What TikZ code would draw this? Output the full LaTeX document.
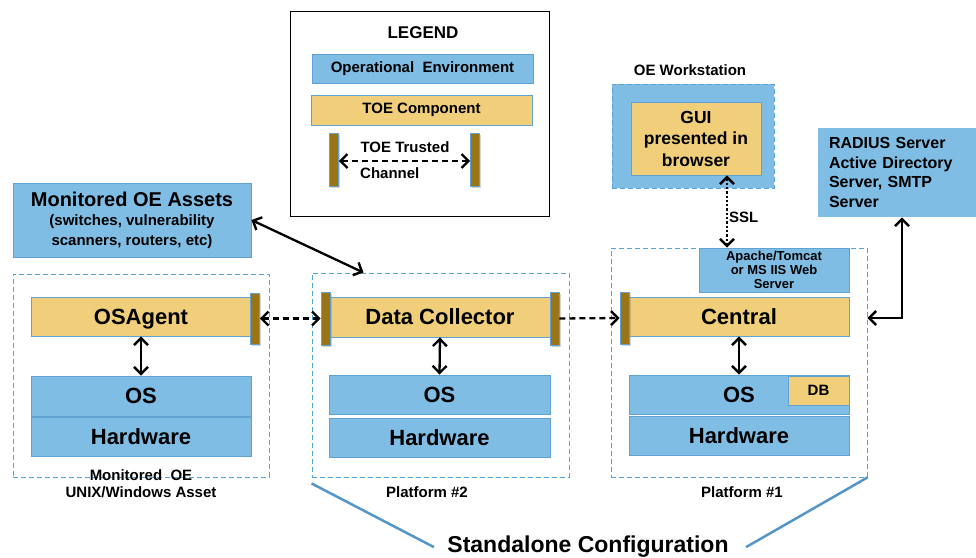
\documentclass[tikz,border=0pt]{standalone}
\usepackage{fontspec}
\setmainfont{Liberation Sans}
\usetikzlibrary{arrows.meta,shadows}

\definecolor{oeblue}{RGB}{127,189,228}
\definecolor{oeedge}{RGB}{98,162,210}
\definecolor{toeyel}{RGB}{240,206,122}
\definecolor{chanbar}{RGB}{153,117,24}
\definecolor{platedge}{RGB}{88,164,214}
\definecolor{cfgline}{RGB}{84,150,200}

\newcommand\fsz[2]{\fontsize{#1}{#2}\selectfont\bfseries}

\tikzset{
  box/.style={draw=oeedge, line width=0.9pt, inner sep=0pt, align=center},
  oe/.style={box, fill=oeblue},
  toe/.style={box, fill=toeyel},
  layer/.style={font=\fsz{22}{26}, text height=15.8pt, text depth=0pt},
  chanbar/.style={draw=oeedge, fill=chanbar, line width=0.6pt, inner sep=0pt,
    minimum width=9pt, minimum height=52pt,
    drop shadow={opacity=0.35, shadow xshift=1.5pt, shadow yshift=-2pt}},
  platform/.style={draw=platedge, line width=0.9pt, dash pattern=on 5pt off 3pt,
    inner sep=0pt},
  barb/.tip={Straight Barb[length=7pt,width=14pt,line width=2.4pt]},
  link/.style={line width=2.3pt, barb-barb},
  chan/.style={line width=2.3pt, dash pattern=on 6pt off 4pt},
  caption/.style={font=\fsz{15}{17}, anchor=base, align=center},
}

\begin{document}
\begin{tikzpicture}[x=1pt, y=-1pt]
\useasboundingbox (0,0) rectangle (976,557);

% ---------------- legend ----------------
\node[draw=black, line width=1pt, minimum width=259pt, minimum height=205pt, inner sep=0pt]
  (legend) at (419.5,113.5) {};
\node[font=\fsz{17}{20}, anchor=base] (legtitle) at (423,38) {LEGEND};
\node[oe, minimum width=221pt, minimum height=29pt, font=\fsz{15}{18}]
  (legoe) at (422.5,68.5) {Operational\ \ Environment};
\node[toe, minimum width=221pt, minimum height=30pt, font=\fsz{15}{18}]
  (legtoe) at (421.5,110) {TOE Component};
\node[chanbar, minimum height=53pt] (legbl) at (334,159.5) {};
\node[chanbar, minimum height=53pt] (legbr) at (475,159.5) {};
\draw[chan, barb-barb] ([yshift=-1.5pt]legbl.east) -- ([yshift=-1.5pt]legbr.west);
\node[caption] (legtt) at (405,152) {TOE Trusted};
\node[font=\fsz{15}{17}, anchor=base west, inner sep=0pt] (legch) at (360,178) {Channel};

% ---------------- monitored assets ----------------
\node[oe, minimum width=238pt, minimum height=74pt, font=\fsz{15}{20}]
  (assets) at (132,220)
  {{\fsz{20}{20}Monitored OE Assets}\\[-1pt](switches, vulnerability\\scanners, routers, etc)};

% ---------------- monitored OE asset platform ----------------
\node[platform, minimum width=256pt, minimum height=203pt] (plat3) at (141,375.5) {};
\node[toe, layer, minimum width=220pt, minimum height=39pt] (osagent) at (141,316.5) {OSAgent};
\node[chanbar, minimum height=51pt] (barA) at (255,318.5) {};
\node[oe, layer, minimum width=220pt, minimum height=40pt] (os3) at (141,396) {OS};
\node[oe, layer, minimum width=220pt, minimum height=39pt] (hw3) at (141,436.5) {Hardware};
\node[caption] (lab3) at (141,497) {Monitored\ \ OE\\UNIX/Windows Asset};

% ---------------- platform #2 ----------------
\node[platform, minimum width=257pt, minimum height=204pt] (plat2) at (440.5,375) {};
\node[toe, layer, minimum width=222pt, minimum height=40pt] (dc) at (440,317) {Data\ Collector};
\node[chanbar, minimum height=53pt] (barBl) at (325.5,318.5) {};
\node[chanbar, minimum height=53pt] (barBr) at (554.5,318.5) {};
\node[oe, layer, minimum width=221pt, minimum height=39pt] (os2) at (439.5,394.5) {OS};
\node[oe, layer, minimum width=221pt, minimum height=39pt] (hw2) at (439.5,437.5) {Hardware};
\node[caption] (lab2) at (427,497) {Platform \#2};

% ---------------- platform #1 ----------------
\node[platform, minimum width=256pt, minimum height=229pt] (plat1) at (739,362.5) {};
\node[oe, minimum width=150pt, minimum height=44pt, font=\fsz{13}{14}]
  (web) at (774,270) {Apache/Tomcat\\or MS IIS Web\\Server};
\node[toe, layer, minimum width=220pt, minimum height=39pt] (central) at (739,316.5) {Central};
\node[chanbar, minimum height=52pt] (barC) at (624.5,318) {};
\node[oe, layer, minimum width=220pt, minimum height=39pt] (os1) at (739,394.5) {OS};
\node[toe, minimum width=61pt, minimum height=29pt, font=\fsz{15}{18}] (db) at (818.5,390.5) {DB};
\node[oe, layer, minimum width=220pt, minimum height=39pt] (hw1) at (739,435.5) {Hardware};
\node[caption] (lab1) at (742,497) {Platform \#1};

% ---------------- OE workstation ----------------
\node[caption] (wslab) at (690,75) {OE Workstation};
\node[platform, fill=oeblue, minimum width=162pt, minimum height=104pt] (ws) at (693,136) {};
\node[toe, minimum width=130pt, minimum height=73pt, font=\fsz{17.5}{21.5}]
  (gui) at (696,138.5) {GUI\\presented in\\browser};

% ---------------- RADIUS / AD / SMTP ----------------
\node[oe, draw=none, minimum width=158pt, minimum height=89pt, text width=136pt,
  align=left, font=\fsz{16}{19.7}] (radius) at (897,172.5)
  {RADIUS Server\\Active Directory\\Server, SMTP\\Server};

% ---------------- connectors ----------------
\draw[link] (osagent.south) -- (os3.north);
\draw[link] (dc.south) -- (os2.north);
\draw[link] (central.south) -- (os1.north);
\draw[link] (assets.east) -- ([xshift=-77pt]plat2.north);
\draw[link] ([xshift=5pt]radius.south) |- ([yshift=-1.5pt]plat1.east |- central.east);
\draw[line width=2.3pt, dotted, barb-barb]
  ([xshift=31pt]gui.south) -- ([xshift=31pt]gui.south |- web.north);
\node[font=\fsz{15}{17}, anchor=base west, inner sep=0pt] (ssl) at (729,222) {SSL};

\draw[chan, barb-barb] (barA.east) -- (barBl.west);
\draw[chan, -barb] (barBr.east) -- (barC.west);

% ---------------- standalone configuration ----------------
\node[font=\fsz{23}{26}, anchor=base] (cfg) at (588,552) {Standalone Configuration};
\draw[cfgline, line width=2.5pt] ([yshift=-6pt]plat2.south west) -- ([xshift=-10pt, yshift=-1pt]cfg.west);
\draw[cfgline, line width=2.5pt] (plat1.south east) -- ([xshift=14pt, yshift=-1pt]cfg.east);
\end{tikzpicture}
\end{document}
